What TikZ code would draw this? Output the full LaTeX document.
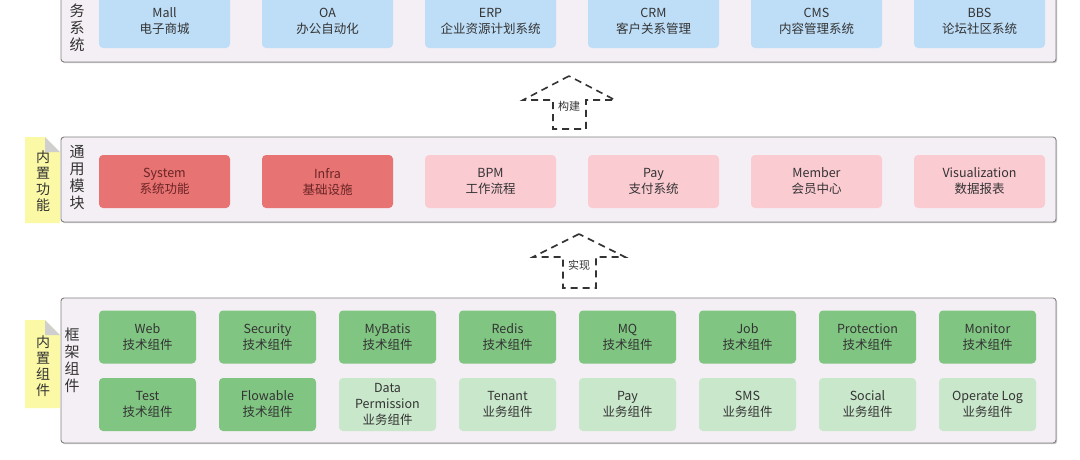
\documentclass[tikz,border=0pt]{standalone}
\usepackage{fontspec}
\setmainfont{Noto Sans CJK SC}
\usetikzlibrary{shadows}
\definecolor{panelbg}{HTML}{F4EFF4}
\definecolor{appblue}{HTML}{BEDEF8}
\definecolor{coresred}{HTML}{E87373}
\definecolor{modpink}{HTML}{FBCBD2}
\definecolor{techgreen}{HTML}{80C582}
\definecolor{bizgreen}{HTML}{C9E7CA}
\definecolor{notebg}{HTML}{FBF8A6}
\definecolor{foldgrey}{HTML}{CFCFCF}
\definecolor{txt}{HTML}{333333}
\definecolor{redtxt}{HTML}{6A2424}
\tikzset{
  panel/.style={draw=black!50, fill=panelbg, rounded corners=3pt, line width=0.9pt,
    drop shadow={shadow xshift=1.2pt, shadow yshift=-1.2pt, opacity=0.35, fill=black!60}},
  cell/.style={rounded corners=4pt, align=center, inner sep=0pt, text=txt,
    font=\fontsize{12.5}{16}\selectfont},
  appbox/.style={cell, fill=appblue, minimum width=131pt, minimum height=53pt},
  corebox/.style={cell, fill=coresred, text=redtxt, minimum width=131pt, minimum height=53pt},
  modbox/.style={cell, fill=modpink, minimum width=131pt, minimum height=53pt},
  techbox/.style={cell, fill=techgreen, minimum width=97pt, minimum height=53pt},
  bizbox/.style={cell, fill=bizgreen, minimum width=97pt, minimum height=53pt},
  sidelabel/.style={align=center, inner sep=0pt, text=txt, font=\fontsize{15}{17}\selectfont},
  notelabel/.style={align=center, inner sep=0pt, text=txt, font=\fontsize{14}{16}\selectfont},
  flowarrow/.style={draw=black!80, line width=1.6pt, dash pattern=on 7pt off 5pt},
  arrowlabel/.style={inner sep=0pt, text=txt, font=\fontsize{11}{13}\selectfont}
}
\begin{document}
\begin{tikzpicture}[x=1pt, y=-1pt]
  \clip (0,0) rectangle (1080,459);
  \fill[white] (0,0) rectangle (1080,459);
  % panels
  \draw[panel] (61,-20) rectangle (1056,62);
  \draw[panel] (61,137) rectangle (1056,222);
  \draw[panel] (61,298) rectangle (1056,443);
  % side notes
  \fill[notebg] (25,137) -- (45,137) -- (60,152) -- (60,223) -- (25,223) -- cycle;
  \fill[foldgrey] (45,137) -- (60,152) -- (45,152) -- cycle;
  \fill[notebg] (25,320) -- (45,320) -- (60,335) -- (60,408) -- (25,408) -- cycle;
  \fill[foldgrey] (45,320) -- (60,335) -- (45,335) -- cycle;
  \path
    (43,181.5) node[notelabel] (modnote) {内\\置\\功\\能}
    (43,366) node[notelabel] (fwnote) {内\\置\\组\\件}
    (77,27.5) node[sidelabel] (bizlabel) {务\\系\\统}
    (77,178) node[sidelabel] (modlabel) {通\\用\\模\\块}
    (72,360) node[sidelabel] (fwlabel) {框\\架\\组\\件};
  % business systems
  \path
    (164.5,21.5) node[appbox] (mall) {Mall\\电子商城}
    (327.5,21.5) node[appbox] (oa) {OA\\办公自动化}
    (490.5,21.5) node[appbox] (erp) {ERP\\企业资源计划系统}
    (653.5,21.5) node[appbox] (crm) {CRM\\客户关系管理}
    (816.5,21.5) node[appbox] (cms) {CMS\\内容管理系统}
    (979.5,21.5) node[appbox] (bbs) {BBS\\论坛社区系统};
  % common modules
  \path
    (164.5,181.5) node[corebox] (system) {System\\系统功能}
    (327.5,181.5) node[corebox] (infra) {Infra\\基础设施}
    (490.5,181.5) node[modbox] (bpm) {BPM\\工作流程}
    (653.5,181.5) node[modbox] (pay) {Pay\\支付系统}
    (816.5,181.5) node[modbox] (member) {Member\\会员中心}
    (979.5,181.5) node[modbox] (visual) {Visualization\\数据报表};
  % framework components
  \path
    (147.5,337) node[techbox] (web) {Web\\技术组件}
    (267.5,337) node[techbox] (security) {Security\\技术组件}
    (387.5,337) node[techbox] (mybatis) {MyBatis\\技术组件}
    (507.5,337) node[techbox] (redis) {Redis\\技术组件}
    (627.5,337) node[techbox] (mq) {MQ\\技术组件}
    (747.5,337) node[techbox] (job) {Job\\技术组件}
    (867.5,337) node[techbox] (protection) {Protection\\技术组件}
    (987.5,337) node[techbox] (monitor) {Monitor\\技术组件};
  \path
    (147.5,404.5) node[techbox] (test) {Test\\技术组件}
    (267.5,404.5) node[techbox] (flowable) {Flowable\\技术组件}
    (387.5,404.5) node[bizbox] (datap) {Data\\Permission\\业务组件}
    (507.5,404.5) node[bizbox] (tenant) {Tenant\\业务组件}
    (627.5,404.5) node[bizbox] (paybiz) {Pay\\业务组件}
    (747.5,404.5) node[bizbox] (sms) {SMS\\业务组件}
    (867.5,404.5) node[bizbox] (social) {Social\\业务组件}
    (987.5,404.5) node[bizbox] (oplog) {Operate Log\\业务组件};
  % dashed block arrows
  \draw[flowarrow] (569,76) -- (523,100) -- (553,100) -- (553,129)
    -- (586,129) -- (586,100) -- (615,100) -- cycle;
  \node[arrowlabel] (build) at (569,106) {构建};
  \draw[flowarrow] (579,234) -- (533,257) -- (563,257) -- (563,288)
    -- (596,288) -- (596,257) -- (625,257) -- cycle;
  \node[arrowlabel] (impl) at (579,265) {实现};
\end{tikzpicture}
\end{document}
